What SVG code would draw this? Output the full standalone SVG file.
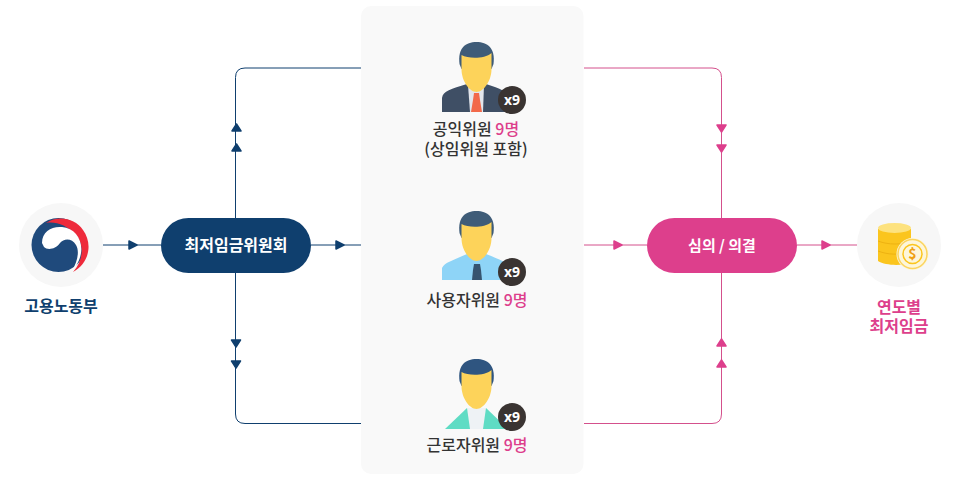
<svg xmlns="http://www.w3.org/2000/svg" width="971" height="488" viewBox="0 0 971 488">
<style>
text{font-family:"Noto Sans CJK KR","Noto Sans",sans-serif;text-anchor:middle}
.lbl{font-size:16px;fill:#333;font-weight:500}
.pk{fill:#dd3f8c}
.navy{fill:#0f3f6e}
.cap{font-size:16px;font-weight:700}
.lb{fill:none;stroke:#0f3f6e;stroke-width:1}
.lp{fill:none;stroke:#d4508c;stroke-width:1}
.ah{stroke-linejoin:round;stroke-width:1.500}
.pill{font-size:16px;fill:#fff;font-weight:700}
.badge{fill:#3a3432}
.bt{font-family:"Noto Sans",sans-serif;font-size:14px;font-weight:700;fill:#fff}
.skin{fill:#fdd35a}
</style>
<defs>
<g id="head">
<path d="M-17 22C-19 6 -11 0 0 0C11 0 19 6 17 22L15 27H-15Z"/>
<path class="skin" d="M-15 13C-8 17 8 17 15 11V27C15 39 7 50 0 50C-7 50 -15 39 -15 27Z"/>
</g>
</defs>
<rect id="panel" x="361" y="6" width="222.500" height="468" rx="10" fill="#f9f9f9"/>
<g id="connectors">
<path class="lb" d="M103 245H161M311 245H361M361 68H245Q235.500 68 235.500 77.500V218M235.500 273V414Q235.500 423.500 245 423.500H361"/>
<path class="lp" d="M584 245H647M797 245H857M584 68H712Q721.500 68 721.500 77.500V218M721.500 273V414Q721.500 423.500 712 423.500H584"/>
<g class="ah" fill="#0f3f6e" stroke="#0f3f6e">
<path d="M129 241L137 245L129 249Z"/>
<path d="M336 241L344 245L336 249Z"/>
<path d="M236.500 124L241 131H232Z"/>
<path d="M236.500 144L241 151H232Z"/>
<path d="M236 347L240.500 340H231.500Z"/>
<path d="M236 368L240.500 361H231.500Z"/>
</g>
<g class="ah" fill="#dd3f8c" stroke="#dd3f8c">
<path d="M614 241L622 245L614 249Z"/>
<path d="M822 241L830 245L822 249Z"/>
<path d="M721.500 132L726 125H717Z"/>
<path d="M721.500 152L726 145H717Z"/>
<path d="M721.500 339L726 346H717Z"/>
<path d="M721.500 360L726 367H717Z"/>
</g>
</g>
<g id="moel">
<circle cx="61" cy="245" r="42" fill="#f7f7f7"/>
<circle cx="58.500" cy="245" r="27" fill="#1f4a7c"/>
<path d="M46 223C58 215 75 218 83 230C92 242 91 262 73 272C84 260 84 244 76 235C67 225 55 221 46 223Z" fill="#ee2a3b"/>
<path d="M42 243C42 231 52 226 62 227C75 228 83 240 81 253C80 260 76 267 72 271C77 262 80 252 76 245C72 238 64 238 60 243C55 250 47 250 44 247Z" fill="#fff"/>
<text x="61" y="312" class="navy cap">고용노동부</text>
</g>
<g id="committee">
<rect x="161" y="218" width="150" height="55" rx="27.500" fill="#0f3f6e"/>
<text x="236" y="251" class="pill">최저임금위원회</text>
</g>
<g id="public">
<path d="M442 112V98C443 91 451 89 467 84H486C501 89 507 91 509 98V112Z" fill="#3f4f65"/>
<path d="M468 85H484L483 112H470Z" fill="#e3e6ec"/>
<path d="M474 93H479L480 100L482 112H471L473 100Z" fill="#f2694a"/>
<use href="#head" x="476.500" y="42" fill="#3f5c78"/>
<circle class="badge" cx="512" cy="100" r="14"/>
<text class="bt" x="512" y="105">x9</text>
<text class="lbl" x="476" y="135">공익위원 <tspan class="pk">9명</tspan></text>
<text class="lbl" x="476" y="155">(상임위원 포함)</text>
</g>
<g id="employer">
<path d="M442 280V268C445 262 452 261 467 254H486C501 260 507 262 509 268V280Z" fill="#8ed4f7"/>
<path d="M474 264H480L481 270L482 280H472L473 270Z" fill="#36546f"/>
<use href="#head" x="476.500" y="211" fill="#3f5c78"/>
<circle class="badge" cx="512" cy="272" r="14"/>
<text class="bt" x="512" y="277">x9</text>
<text class="lbl" x="477" y="306">사용자위원 <tspan class="pk">9명</tspan></text>
</g>
<g id="worker">
<path d="M445 429L467 408H486L508 429Z" fill="#5fdcc4"/>
<path d="M467 408H486L483 429H470Z" fill="#eef2f5"/>
<use href="#head" x="476.500" y="359" fill="#2f5580"/>
<circle class="badge" cx="512" cy="417" r="14"/>
<text class="bt" x="512" y="422">x9</text>
<text class="lbl" x="477" y="451">근로자위원 <tspan class="pk">9명</tspan></text>
</g>
<g id="deliberation">
<rect x="647" y="218" width="150" height="55" rx="27.500" fill="#dd3f8c"/>
<text x="722" y="251" class="pill" style="font-size:15px">심의 / 의결</text>
</g>
<g id="wage">
<circle cx="899" cy="245" r="42" fill="#f7f7f7"/>
<path d="M878 229V261C886 266 904 266 911 262V229Z" fill="#fbc51e"/>
<ellipse cx="894.500" cy="228" rx="16.500" ry="5" fill="#fde27e"/>
<path d="M878 241C888 245 902 245 911 241M878 251C888 255 900 255 908 252" fill="none" stroke="#eeb212"/>
<circle cx="912.500" cy="254" r="16" fill="#fdf6da"/>
<circle cx="912.500" cy="254" r="14.500" fill="none" stroke="#fbd45f" stroke-width="1.500"/>
<circle cx="912.500" cy="254" r="9.500" fill="none" stroke="#fbc51e" stroke-width="1.500"/>
<text x="912.500" y="259" font-family="Liberation Sans" font-size="14" font-weight="700" fill="#f0a010">$</text>
<text x="899" y="313" class="pk cap">연도별</text>
<text x="899" y="332" class="pk cap">최저임금</text>
</g>
</svg>
